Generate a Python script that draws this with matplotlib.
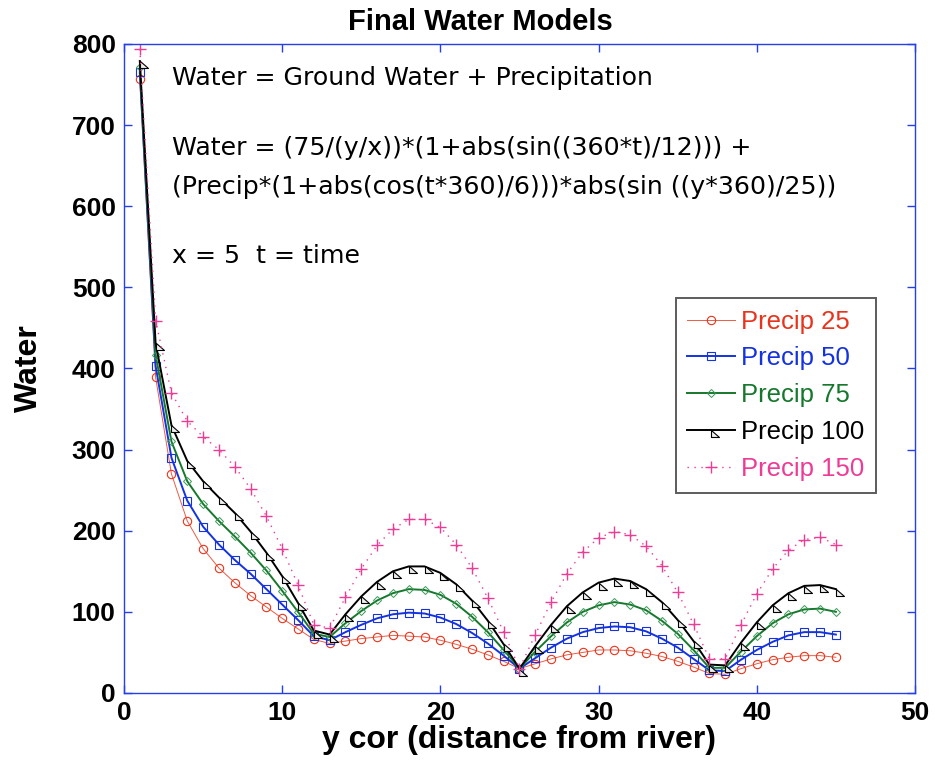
import matplotlib
matplotlib.use("Agg")
import matplotlib.pyplot as plt
from matplotlib.path import Path

# distance from river (y cor)
ycor = list(range(1, 46))

precip_25 = [757, 389, 270, 212, 178, 154, 136, 120, 106, 92, 79, 66, 61, 64, 67,
             69, 71, 70, 69, 65, 60, 54, 47, 39, 30, 36, 42, 47, 50, 53,
             53, 52, 49, 45, 39, 32, 24, 23, 30, 36, 41, 44, 46, 46, 44]
precip_50 = [765, 403, 290, 237, 205, 183, 164, 147, 128, 109, 90, 70, 65, 75, 84,
             92, 97, 99, 98, 93, 85, 74, 61, 46, 30, 43, 56, 67, 75, 80,
             82, 81, 76, 67, 56, 42, 28, 27, 41, 53, 63, 71, 75, 75, 72]
precip_75 = [772, 417, 310, 261, 233, 212, 193, 173, 151, 126, 100, 73, 69, 86, 101,
             114, 123, 128, 127, 121, 110, 94, 75, 53, 30, 51, 70, 87, 100, 108,
             112, 109, 102, 89, 73, 53, 31, 31, 51, 70, 86, 97, 103, 104, 100]
precip_100 = [779, 431, 330, 286, 261, 241, 222, 199, 173, 144, 111, 77, 72, 97, 119,
              137, 150, 156, 156, 148, 134, 114, 89, 60, 30, 58, 84, 107, 124, 136,
              141, 138, 128, 112, 90, 64, 35, 34, 62, 87, 108, 123, 132, 133, 128]
precip_150 = [794, 459, 370, 335, 316, 300, 279, 252, 218, 178, 133, 84, 80, 118, 153,
              182, 202, 214, 214, 204, 183, 154, 117, 75, 30, 72, 112, 147, 174, 191,
              199, 195, 181, 157, 124, 85, 42, 42, 84, 122, 153, 176, 189, 192, 183]

fig = plt.figure(figsize=(9.35, 7.61), dpi=100)
ax = fig.add_axes([0.1326, 0.0894, 0.846, 0.8528])

red = "#e8341c"
blue = "#1432e0"
green = "#16782c"
black = "#000000"
pink = "#ee3b96"

# right-angled triangle hanging below-right of the point
tri = Path([(0, 0), (0, -0.85), (1, -0.85), (0, 0)],
           [Path.MOVETO, Path.LINETO, Path.LINETO, Path.CLOSEPOLY])

ax.plot(ycor, precip_25, color="#ee5a44", lw=0.7, marker="o", ms=6, mfc="none", mec=red, mew=0.8, label="Precip 25")
ax.plot(ycor, precip_50, color=blue, lw=1.4, marker="s", ms=6, mfc="none", mec=blue, mew=0.8, label="Precip 50")
ax.plot(ycor, precip_75, color=green, lw=1.4, marker="D", ms=4.5, mfc="none", mec="#3a9a55", mew=0.7, label="Precip 75")
ax.plot(ycor, precip_100, color=black, lw=1.4, marker=tri, ms=12, mfc="#eeeeee", mec=black, mew=0.8, label="Precip 100")
ax.plot(ycor, precip_150, color=pink, lw=1.0, ls=(0, (1, 4)), marker="+", ms=8, mec=pink, mew=1.0, label="Precip 150")

ax.set_xlim(0, 50)
ax.set_ylim(0, 800)
ax.set_xticks([0, 10, 20, 30, 40, 50])
ax.set_yticks(range(0, 801, 100))

for s in ax.spines.values():
    s.set_color("#2540e8")
    s.set_linewidth(1.0)
ax.tick_params(direction="in", length=6, width=1, colors="#2540e8",
               top=True, right=True, labelcolor="black", labelsize=19, pad=6)
for lab in ax.get_xticklabels() + ax.get_yticklabels():
    lab.set_fontweight("bold")
    lab.set_family("Liberation Sans")

ax.set_title("Final Water Models", fontsize=21, fontweight="bold", family="Liberation Sans",
             pad=10, x=0.451)
ax.set_xlabel("y cor (distance from river)", fontsize=23, fontweight="bold", family="Liberation Sans", labelpad=0)
ax.set_ylabel("Water", fontsize=23, fontweight="bold", family="Liberation Sans", labelpad=20)

txt = dict(fontsize=18.2, family="DejaVu Sans", va="center", ha="left")
ax.text(3.05, 758, "Water = Ground Water + Precipitation", **txt)
ax.text(3.05, 672, "Water = (75/(y/x))*(1+abs(sin((360*t)/12))) +", **txt)
ax.text(3.05, 624, "(Precip*(1+abs(cos(t*360)/6)))*abs(sin ((y*360)/25))", **txt)
ax.text(3.05, 539, "x = 5  t = time", **txt)

leg = ax.legend(loc="upper right", bbox_to_anchor=(0.9507, 0.6086), borderaxespad=0,
                prop={"family": "Liberation Sans", "size": 18.5}, frameon=True, fancybox=False,
                edgecolor="#333333", handlelength=1.85, handletextpad=0.25, borderpad=0.45,
                labelspacing=0.5)
leg.get_frame().set_linewidth(1.4)
for t, c in zip(leg.get_texts(), [red, blue, green, black, pink]):
    t.set_color(c)

fig.savefig("out.png", dpi=100)
